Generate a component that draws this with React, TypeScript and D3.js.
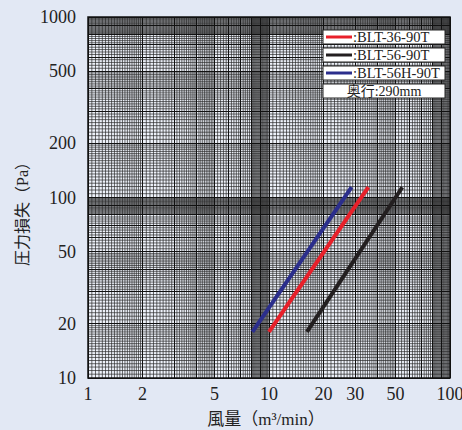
import React from "react";
import * as d3 from "d3";

const xTicks = [1, 2, 5, 10, 20, 30, 50, 100];
const yTicks = [10, 20, 50, 100, 200, 500, 1000];
const seriesNames = [":BLT-36-90T", ":BLT-56-90T", ":BLT-56H-90T"];
const seriesColors = ["#e8202a", "#231f20", "#2b2e8c"];
const seriesFlow = [
  [10.0, 35.4],
  [16.2, 54.5],
  [8.1, 28.6],
];
const seriesPressure = [
  [18.0, 114],
  [18.0, 114],
  [18.0, 114],
];
const depthNote = "奥行:290mm";
const xTitle = "風量（m³/min）";
const yTitle = "圧力損失（Pa）";

function gridValues(lo: number, hi: number) {
  const major: number[] = [];
  const minor: number[] = [];
  for (let d = lo; d < hi; d *= 10) {
    const add = (a: number, b: number, s: number) => {
      const n = Math.round((b - a) / s);
      for (let i = 0; i < n; i++) {
        const v = a + i * s;
        const vv = +(v * d).toFixed(6);
        if (Math.abs(v - Math.round(v)) < 1e-6) major.push(vv);
        else minor.push(vv);
      }
    };
    add(1, 2, 0.05);
    add(2, 5, 0.1);
    add(5, 8, 0.2);
    add(8, 10, 0.1);
  }
  major.push(hi);
  return { major, minor };
}

export default function App() {
  const W = 462, H = 430;
  const L = 88, R = 450, T = 17, B = 378;
  const x = d3.scaleLog().domain([1, 100]).range([L, R]);
  const y = d3.scaleLog().domain([10, 1000]).range([B, T]);
  const gx = gridValues(1, 100);
  const gy = gridValues(10, 1000);
  const font = "'Liberation Serif', 'Times New Roman', 'Noto Sans CJK JP', serif";
  const line = d3.line<[number, number]>().x((d) => x(d[0])).y((d) => y(d[1]));
  const legendX = 323, legendW = 122, legendH = 14;
  const legendY = [30, 48, 66, 84];
  return (
    <svg width={W} height={H} style={{ position: "absolute", left: 0, top: 0, display: "block" }}>
      <rect x={0} y={0} width={W} height={H} fill="#e2e8f4" />
      <rect x={L} y={T} width={R - L} height={B - T} fill="#eef2fa" />
      <g>
        {gx.minor.map((v, i) => (
          <line key={"xm" + i} x1={x(v)} x2={x(v)} y1={T} y2={B} stroke="#2a2a2a" strokeWidth={0.7} />
        ))}
        {gy.minor.map((v, i) => (
          <line key={"ym" + i} x1={L} x2={R} y1={y(v)} y2={y(v)} stroke="#2a2a2a" strokeWidth={0.7} />
        ))}
      </g>
      <g shapeRendering="crispEdges">
        {gx.major.map((v, i) => (
          <line key={"xM" + i} x1={x(v)} x2={x(v)} y1={T} y2={B} stroke="#111" strokeWidth={1} />
        ))}
        {gy.major.map((v, i) => (
          <line key={"yM" + i} x1={L} x2={R} y1={y(v)} y2={y(v)} stroke="#111" strokeWidth={1} />
        ))}
      </g>
      <rect x={L} y={T} width={R - L} height={B - T} fill="none" stroke="#111" strokeWidth={1.5} />
      {seriesNames.map((n, i) => (
        <path
          key={n}
          d={line([
            [seriesFlow[i][0], seriesPressure[i][0]],
            [seriesFlow[i][1], seriesPressure[i][1]],
          ]) || ""}
          stroke={seriesColors[i]}
          strokeWidth={4}
          fill="none"
        />
      ))}
      {seriesNames.map((n, i) => (
        <g key={"lg" + i}>
          <rect x={legendX} y={legendY[i]} width={legendW} height={legendH} fill="#fff" stroke="#222" strokeWidth={1} />
          <line x1={legendX + 3} x2={legendX + 29} y1={legendY[i] + 7} y2={legendY[i] + 7} stroke={seriesColors[i]} strokeWidth={3} />
          <text x={legendX + 30} y={legendY[i] + 12} style={{ fontFamily: font }} fontSize={14.5} fill="#222">{n}</text>
        </g>
      ))}
      <rect x={legendX} y={legendY[3]} width={legendW} height={legendH} fill="#fff" stroke="#222" strokeWidth={1} />
      <text x={legendX + legendW / 2} y={legendY[3] + 12} textAnchor="middle" style={{ fontFamily: font }} fontSize={14} fill="#222">{depthNote}</text>
      {xTicks.map((t) => (
        <text key={"xt" + t} x={x(t)} y={400} textAnchor="middle" style={{ fontFamily: font }} fontSize={18} fill="#222">{t}</text>
      ))}
      {yTicks.map((t) => (
        <text key={"yt" + t} x={76} y={y(t) + 6} textAnchor="end" style={{ fontFamily: font }} fontSize={18} fill="#222">{t}</text>
      ))}
      <text x={266} y={425} textAnchor="middle" style={{ fontFamily: font }} fontSize={17} fill="#222">{xTitle}</text>
      <text transform={`translate(28,210) rotate(-90)`} textAnchor="middle" style={{ fontFamily: font }} fontSize={16} fill="#222">{yTitle}</text>
    </svg>
  );
}
